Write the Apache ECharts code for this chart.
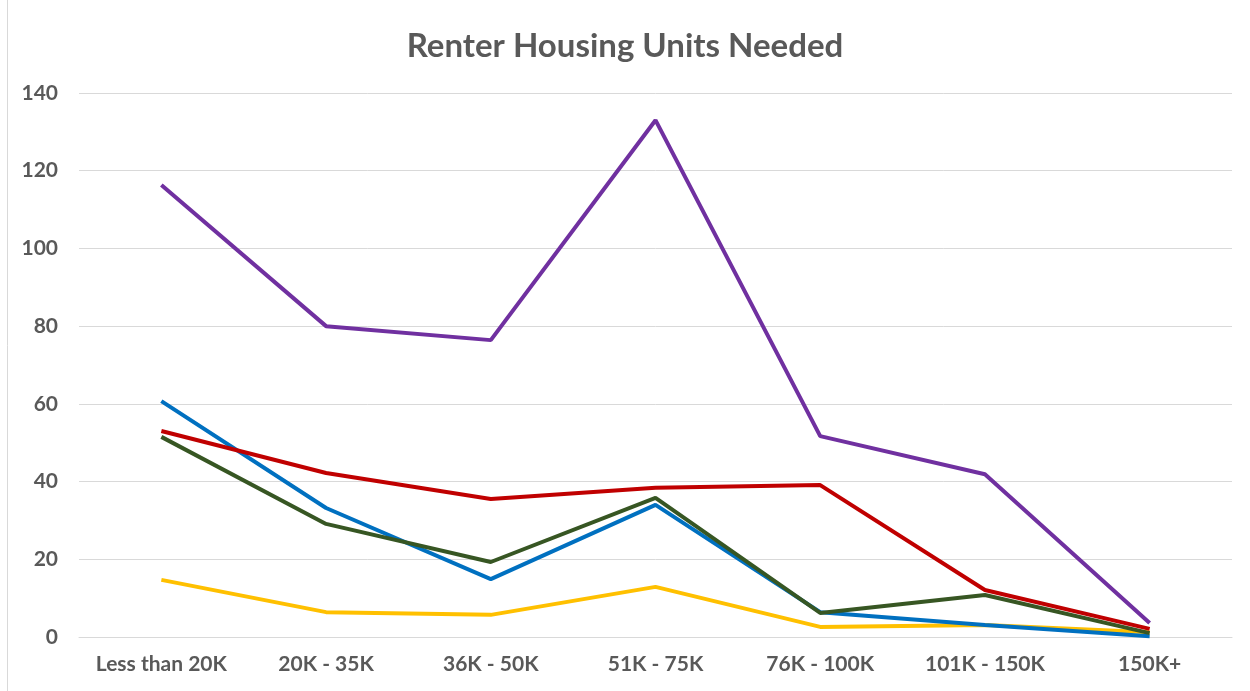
<!DOCTYPE html>
<html>
<head>
<meta charset="utf-8">
<script src="https://cdn.jsdelivr.net/npm/echarts@6/dist/echarts.min.js"></script>
<style>
html,body{margin:0;padding:0;background:#fff;}
#chart{width:1250px;height:691px;}
</style>
</head>
<body>
<div id="chart"></div>
<script>
const categories = ["Less than 20K", "20K - 35K", "36K - 50K", "51K - 75K", "76K - 100K", "101K - 150K", "150K+"];
const yellowValues = [14.7, 6.4, 5.7, 12.9, 2.6, 3.1, 1.2];
const blueValues = [60.7, 33.2, 14.9, 34.0, 6.4, 3.1, 0.2];
const greenValues = [51.5, 29.1, 19.3, 35.8, 6.2, 10.8, 1.0];
const redValues = [53.0, 42.2, 35.5, 38.4, 39.1, 12.1, 2.1];
const purpleValues = [116.3, 80.0, 76.4, 133.0, 51.7, 41.9, 3.6];
const yTicks = {min: 0, max: 140, interval: 20};

const chart = echarts.init(document.getElementById('chart'));
const font = 'Lato, "Open Sans", sans-serif';
function line(name, data, color) {
  return {name, type: 'line', data, symbol: 'none', lineStyle: {color, width: 4}, itemStyle: {color}};
}
chart.setOption({
  backgroundColor: '#ffffff',
  animation: false,
  title: {
    text: 'Renter Housing Units Needed',
    left: 'center', top: 25,
    textStyle: {fontFamily: font, fontWeight: 'bold', fontSize: 33, color: '#595959'}
  },
  graphic: [{type: 'line', shape: {x1: 7.5, y1: 0, x2: 7.5, y2: 691}, style: {stroke: '#d9d9d9', lineWidth: 1}}],
  grid: {left: 79, right: 18, top: 93, bottom: 54, containLabel: false},
  xAxis: {
    type: 'category', data: categories, boundaryGap: true,
    axisLine: {lineStyle: {color: '#d9d9d9', width: 1}},
    axisTick: {show: false},
    axisLabel: {interval: 0, hideOverlap: false, fontFamily: font, fontWeight: 'bold', fontSize: 21, color: '#595959', margin: 17}
  },
  yAxis: {
    type: 'value', min: yTicks.min, max: yTicks.max, interval: yTicks.interval,
    axisLine: {show: false}, axisTick: {show: false},
    splitLine: {lineStyle: {color: '#d9d9d9', width: 1}},
    axisLabel: {fontFamily: font, fontWeight: 'bold', fontSize: 21, color: '#595959', margin: 21}
  },
  series: [
    line('Yellow', yellowValues, '#FFC000'),
    line('Blue', blueValues, '#0070C0'),
    line('Green', greenValues, '#375623'),
    line('Red', redValues, '#C00000'),
    line('Purple', purpleValues, '#7030A0')
  ]
});
</script>
</body>
</html>
